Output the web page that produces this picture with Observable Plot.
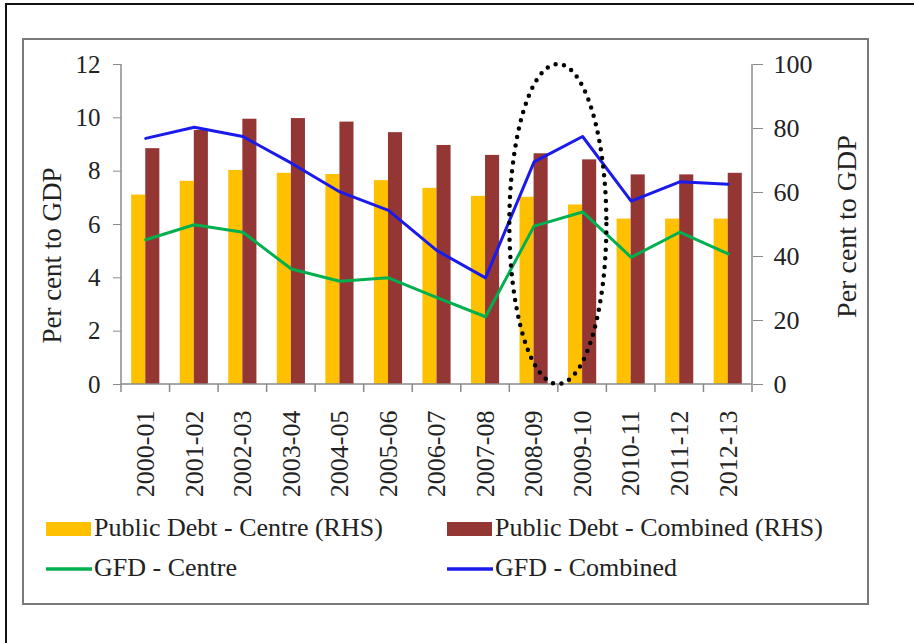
<!DOCTYPE html>
<html>
<head>
<meta charset="utf-8">
<script src="https://cdn.jsdelivr.net/npm/d3@7"></script>
<script src="https://cdn.jsdelivr.net/npm/@observablehq/plot@0.6"></script>
<style>
  html, body { margin: 0; padding: 0; background: #fff; }
  #wrap { position: relative; width: 914px; height: 643px; overflow: hidden; font-family: "Liberation Serif", "Times New Roman", serif; }
  #outer { position: absolute; left: 5px; top: 3px; width: 920px; height: 660px; border-top: 2px solid #111; border-left: 2px solid #111; }
  #inner { position: absolute; left: 22px; top: 38px; width: 843px; height: 563px; border: 2px solid #7a7a7a; }
  #chart { position: absolute; left: 0; top: 0; }
  #legend { position: absolute; left: 0; top: 500px; }
</style>
</head>
<body>
<div id="wrap">
  <div id="outer"></div>
  <div id="inner"></div>
  <div id="chart"></div>
  <div id="legend"></div>
</div>
<script>
// ---- data ----
const categories = ["2000-01","2001-02","2002-03","2003-04","2004-05","2005-06","2006-07","2007-08","2008-09","2009-10","2010-11","2011-12","2012-13"];
const debtCentre   = [59.2, 63.5, 66.9, 66.0, 65.6, 63.7, 61.3, 58.8, 58.5, 56.1, 51.7, 51.7, 51.7]; // RHS
const debtCombined = [73.7, 79.4, 82.9, 83.1, 82.0, 78.7, 74.7, 71.6, 72.1, 70.2, 65.5, 65.5, 66.0]; // RHS
const gfdCentre    = [5.43, 5.99, 5.71, 4.33, 3.87, 4.00, 3.26, 2.54, 5.94, 6.47, 4.77, 5.71, 4.90]; // LHS
const gfdCombined  = [9.23, 9.65, 9.30, 8.30, 7.22, 6.53, 5.02, 4.00, 8.35, 9.30, 6.88, 7.60, 7.51]; // LHS
const leftTicks  = [0, 2, 4, 6, 8, 10, 12];
const rightTicks = [0, 20, 40, 60, 80, 100];
const seriesNames = ["Public Debt - Centre (RHS)", "Public Debt - Combined (RHS)", "GFD - Centre", "GFD - Combined"];
const axisTitle = "Per cent to GDP";
const highlightAfter = "2008-09"; // dotted ellipse straddles 2008-09 / 2009-10

// ---- styles / layout ----
const colors = ["#FFC000", "#943634", "#00B050", "#1A1AEB"];
const FONT = '"Liberation Serif", "Times New Roman", serif';
const W = 914, H = 505, ML = 121, MR = 162, MT = 64, MB = 121;
const leftMax = 12, rightMax = 100;
const toLeft = v => v * leftMax / rightMax;
const PAD = 0.42;
const step = (W - ML - MR) / categories.length;
const bw = step * (1 - PAD);
const legendPos = [[46, 29], [447, 29], [46, 69], [447, 69]];

const rows = categories.map((c, i) => ({
  cat: c,
  debtCentre: toLeft(debtCentre[i]),
  debtCombined: toLeft(debtCombined[i]),
  gfdCentre: gfdCentre[i],
  gfdCombined: gfdCombined[i]
}));

function decorations(index, scales, values, dims) {
  const x0 = dims.marginLeft, x1 = dims.width - dims.marginRight;
  const n = categories.length, st = (x1 - x0) / n;
  const yb = scales.y(0), yt = scales.y(leftMax);
  const g = d3.create("svg:g");
  const axisCol = "#8a8a8a";
  g.append("line").attr("x1", x0).attr("x2", x0).attr("y1", yt).attr("y2", yb).attr("stroke", axisCol).attr("stroke-width", 1.5);
  g.append("line").attr("x1", x1).attr("x2", x1).attr("y1", yt).attr("y2", yb).attr("stroke", axisCol).attr("stroke-width", 1.5);
  g.append("line").attr("x1", x0).attr("x2", x1).attr("y1", yb).attr("y2", yb).attr("stroke", axisCol).attr("stroke-width", 1.5);
  for (let i = 0; i <= n; i++) {
    const x = x0 + i * st;
    g.append("line").attr("x1", x).attr("x2", x).attr("y1", yb).attr("y2", yb + 8).attr("stroke", axisCol).attr("stroke-width", 1.5);
  }
  const k = categories.indexOf(highlightAfter) + 1;
  g.append("ellipse")
    .attr("cx", x0 + k * st)
    .attr("cy", scales.y(leftMax / 2))
    .attr("rx", st)
    .attr("ry", (yb - yt) / 2)
    .attr("fill", "none")
    .attr("stroke", "#000")
    .attr("stroke-width", 4.5)
    .attr("stroke-linecap", "round")
    .attr("stroke-dasharray", "0 8.6");
  return g.node();
}

const chart = Plot.plot({
  width: W, height: H,
  marginLeft: ML, marginRight: MR, marginTop: MT, marginBottom: MB,
  style: { fontFamily: FONT, fontSize: "25px", background: "transparent", overflow: "visible", color: "#222" },
  x: { type: "band", domain: categories, paddingInner: PAD, paddingOuter: PAD / 2, round: false, axis: null },
  y: { domain: [0, leftMax], axis: null },
  marks: [
    Plot.barY(rows, { x: "cat", y: "debtCentre", fill: colors[0], insetRight: bw / 2 }),
    Plot.barY(rows, { x: "cat", y: "debtCombined", fill: colors[1], insetLeft: bw / 2 }),
    Plot.line(rows, { x: "cat", y: "gfdCentre", stroke: colors[2], strokeWidth: 3 }),
    Plot.line(rows, { x: "cat", y: "gfdCombined", stroke: colors[3], strokeWidth: 3 }),
    decorations,
    Plot.axisY({ anchor: "left", ticks: leftTicks, tickSize: 8, tickPadding: 13, fontSize: 25, stroke: "#8a8a8a", fill: "#222", label: null }),
    Plot.axisY({ anchor: "right", ticks: rightTicks.map(toLeft), tickFormat: d => Math.round(d * rightMax / leftMax), tickSize: 10, tickPadding: 11, fontSize: 26, stroke: "#8a8a8a", fill: "#222", label: null }),
    Plot.axisX({ anchor: "bottom", tickRotate: -90, tickSize: 0, tickPadding: 26, fontSize: 26, fill: "#222", label: null }),
    Plot.text([axisTitle], { frameAnchor: "left", textAnchor: "middle", rotate: -90, dx: -69, dy: 31, fontSize: 27, fill: "#222" }),
    Plot.text([axisTitle], { frameAnchor: "right", textAnchor: "middle", rotate: -90, dx: 95, dy: 2, fontSize: 28, fill: "#222" })
  ]
});
document.getElementById("chart").appendChild(chart);

// ---- legend ----
const lg = d3.select("#legend").append("svg").attr("width", W).attr("height", 100)
  .style("font-family", FONT).style("font-size", "26px");
seriesNames.forEach((name, i) => {
  const [lx, ly] = legendPos[i];
  if (i < 2) {
    lg.append("rect").attr("x", lx).attr("y", ly - 7).attr("width", 45).attr("height", 14).attr("fill", colors[i]);
  } else {
    lg.append("line").attr("x1", lx).attr("x2", lx + 46).attr("y1", ly).attr("y2", ly).attr("stroke", colors[i]).attr("stroke-width", 3.5);
  }
  lg.append("text").attr("x", lx + 48).attr("y", ly + 7).attr("fill", "#222").text(name);
});
</script>
</body>
</html>
